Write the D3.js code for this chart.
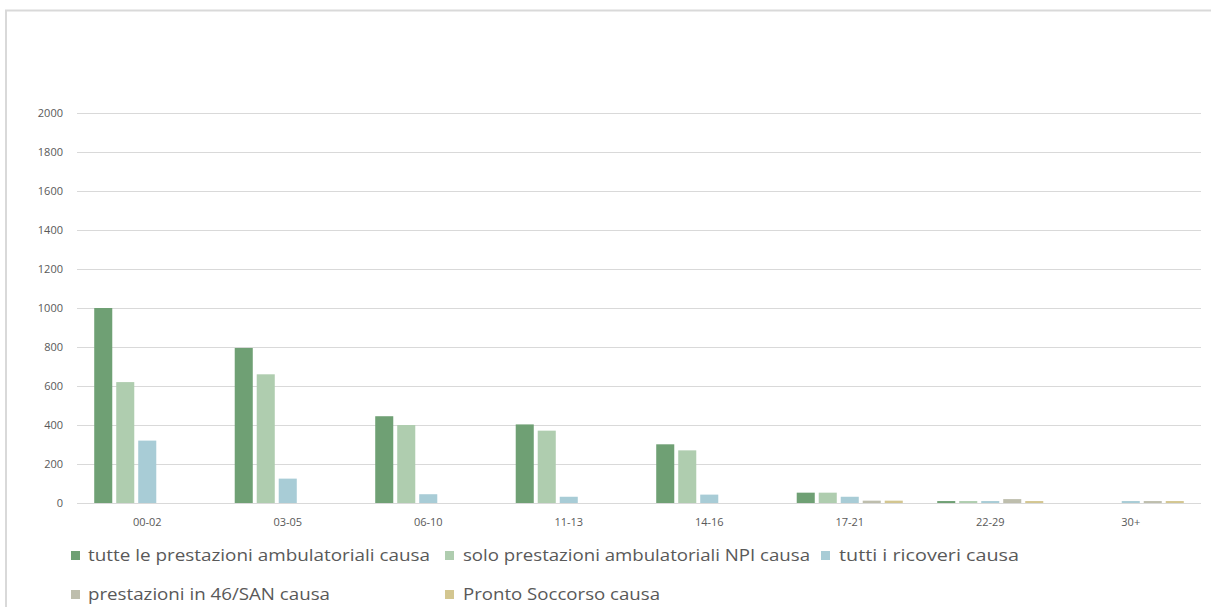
<!DOCTYPE html>
<html>
<head>
<meta charset="utf-8">
<script src="https://cdn.jsdelivr.net/npm/d3@7"></script>
<style>
  html, body { margin: 0; padding: 0; background: #fff; }
  svg { display: block; }
</style>
</head>
<body>
<svg id="chart" width="1211" height="607"></svg>
<script>
const categories = ["00-02", "03-05", "06-10", "11-13", "14-16", "17-21", "22-29", "30+"];
const seriesNames = [
  "tutte le prestazioni ambulatoriali causa",
  "solo prestazioni ambulatoriali NPI causa",
  "tutti i ricoveri causa",
  "prestazioni in 46/SAN causa",
  "Pronto Soccorso causa"
];
const tutteAmbulatoriali = [1000, 795, 445, 403, 301, 53, 10, 0];
const soloNPI            = [620, 660, 400, 371, 270, 53, 10, 0];
const ricoveri           = [320, 125, 45, 32, 43, 32, 10, 10];
const prestazioni46SAN   = [0, 0, 0, 0, 0, 12, 20, 10];
const prontoSoccorso     = [0, 0, 0, 0, 0, 12, 10, 10];
const yTicks = [0, 200, 400, 600, 800, 1000, 1200, 1400, 1600, 1800, 2000];
const colors = ["#6fa074", "#afcdaf", "#a8ccd6", "#bebead", "#d3c690"];

const seriesValues = [tutteAmbulatoriali, soloNPI, ricoveri, prestazioni46SAN, prontoSoccorso];

const svg = d3.select("#chart");
const font = "'Open Sans', 'Liberation Sans', sans-serif";
const textColor = "#595959";

// chart frame
svg.append("line").attr("x1", 5).attr("x2", 1211).attr("y1", 10.5).attr("y2", 10.5)
  .attr("stroke", "#d9d9d9").attr("stroke-width", 2);
svg.append("line").attr("x1", 6).attr("x2", 6).attr("y1", 10).attr("y2", 607)
  .attr("stroke", "#d9d9d9").attr("stroke-width", 2);

const plotLeft = 77, plotRight = 1201;
const y = d3.scaleLinear().domain([0, 2000]).range([503, 113]);
const x0 = d3.scaleBand().domain(categories).range([plotLeft, plotRight])
  .paddingInner(0.217).paddingOuter(0.1085);
const x1 = d3.scaleBand().domain(d3.range(seriesNames.length)).range([0, x0.bandwidth()])
  .paddingInner(0.18).paddingOuter(0.09);

// gridlines
svg.append("g").selectAll("line").data(yTicks).join("line")
  .attr("x1", plotLeft).attr("x2", plotRight)
  .attr("y1", d => Math.round(y(d)) + 0.5).attr("y2", d => Math.round(y(d)) + 0.5)
  .attr("stroke", "#d9d9d9").attr("stroke-width", 1);

// y tick labels
svg.append("g").selectAll("text").data(yTicks).join("text")
  .attr("x", 63).attr("y", d => y(d) + 4)
  .attr("text-anchor", "end")
  .attr("font-family", font).attr("font-size", 11).attr("fill", textColor)
  .text(d => d);

// bars
const groups = svg.append("g").selectAll("g").data(categories).join("g")
  .attr("transform", c => `translate(${x0(c)},0)`);
groups.selectAll("rect")
  .data((c, ci) => seriesValues.map((vals, si) => ({ si, v: vals[ci] })))
  .join("rect")
  .attr("x", d => x1(d.si))
  .attr("width", x1.bandwidth())
  .attr("y", d => y(d.v))
  .attr("height", d => y(0) - y(d.v))
  .attr("fill", d => colors[d.si]);

// x labels
svg.append("g").selectAll("text").data(categories).join("text")
  .attr("x", c => x0(c) + x0.bandwidth() / 2).attr("y", 526)
  .attr("text-anchor", "middle")
  .attr("font-family", font).attr("font-size", 11).attr("fill", textColor)
  .text(c => c);

// legend
const legendPos = [
  { x: 71, y: 551, tx: 88, tw: 342 },
  { x: 445, y: 551, tx: 463, tw: 347 },
  { x: 821, y: 551, tx: 839, tw: 180 },
  { x: 71, y: 590, tx: 88, tw: 242 },
  { x: 445, y: 590, tx: 463, tw: 197 }
];
const leg = svg.append("g").selectAll("g").data(seriesNames).join("g");
leg.append("rect")
  .attr("x", (d, i) => legendPos[i].x).attr("y", (d, i) => legendPos[i].y)
  .attr("width", 9).attr("height", 9)
  .attr("fill", (d, i) => colors[i]);
leg.append("text")
  .attr("x", (d, i) => legendPos[i].tx).attr("y", (d, i) => legendPos[i].y + 10)
  .attr("font-family", font).attr("font-size", 16).attr("fill", textColor)
  .attr("textLength", (d, i) => legendPos[i].tw)
  .attr("lengthAdjust", "spacingAndGlyphs")
  .text(d => d);
</script>
</body>
</html>
